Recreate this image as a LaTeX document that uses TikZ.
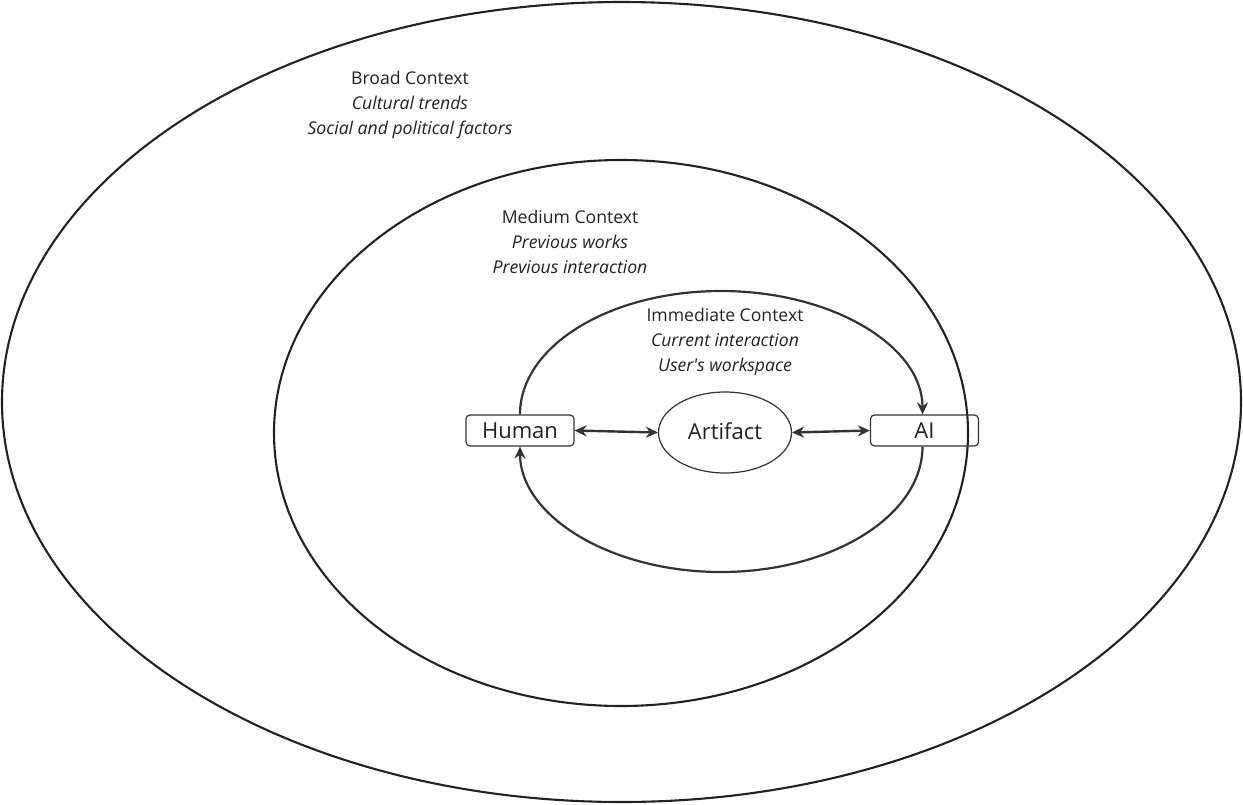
\documentclass[tikz,border=0pt]{standalone}
\usepackage{fontspec}
\setmainfont{Open Sans}
\usetikzlibrary{arrows.meta,calc,shapes.geometric}
\definecolor{ink}{HTML}{222222}
\definecolor{lineink}{HTML}{333333}
\begin{document}
\begin{tikzpicture}[x=1pt,y=-1pt,
  ring/.style={draw=ink, line width=2.1pt},
  box/.style={draw=lineink, line width=1.2pt, rounded corners=4pt, minimum width=108pt, minimum height=31pt, inner sep=0pt, text=ink, font=\fontsize{22}{26}\selectfont},
  tip/.tip={Stealth[length=12pt,width=11pt]},
  conn/.style={draw=lineink, line width=2.2pt, -tip},
  both/.style={draw=lineink, line width=2.4pt, tip-tip},
  lbl/.style={align=center, font=\fontsize{17.6}{25}\selectfont, text=ink}]
\useasboundingbox (0,0) rectangle (1243,804);
% rings
\draw[ring] (621.5,402) ellipse [x radius=619.5pt, y radius=400pt];
\draw[ring] (621,433) ellipse [x radius=347pt, y radius=273pt];
% labels
\node[lbl] (broad) at (410,104.5) {Broad Context\\\textit{Cultural trends}\\\textit{Social and political factors}};
\node[lbl] (medium) at (570,241.5) {Medium Context\\\textit{Previous works}\\\textit{Previous interaction}};
\node[lbl] (immediate) at (725,341.5) {Immediate Context\\\textit{Current interaction}\\\textit{User\textquotesingle s workspace}};
% nodes
\node[box] (human) at (520,430.5) {Human};
\node[box] (ai) at (924.5,430.5) {AI};
\node[ellipse, draw=lineink, line width=1.2pt, minimum width=133pt, minimum height=81pt, inner sep=0pt, text=ink, font=\fontsize{22}{26}\selectfont] (art) at (725,432.5) {\raisebox{2pt}{Artifact}};
% connectors
\draw[both] (human.east) -- (art.west);
\draw[both] (art.east) -- (ai.west);
\coordinate (ttop) at (721,291);
\coordinate (bbot) at (721,572);
\draw[conn] (human.north) .. controls +(0,-68.5) and +(-111,0) .. (ttop) .. controls +(111,0) and +(0,-68.5) .. ([xshift=-2pt]ai.north);
\draw[conn] ([xshift=-2pt]ai.south) .. controls +(0,69) and +(111,0) .. (bbot) .. controls +(-111,0) and +(0,69) .. (human.south);
\end{tikzpicture}
\end{document}
